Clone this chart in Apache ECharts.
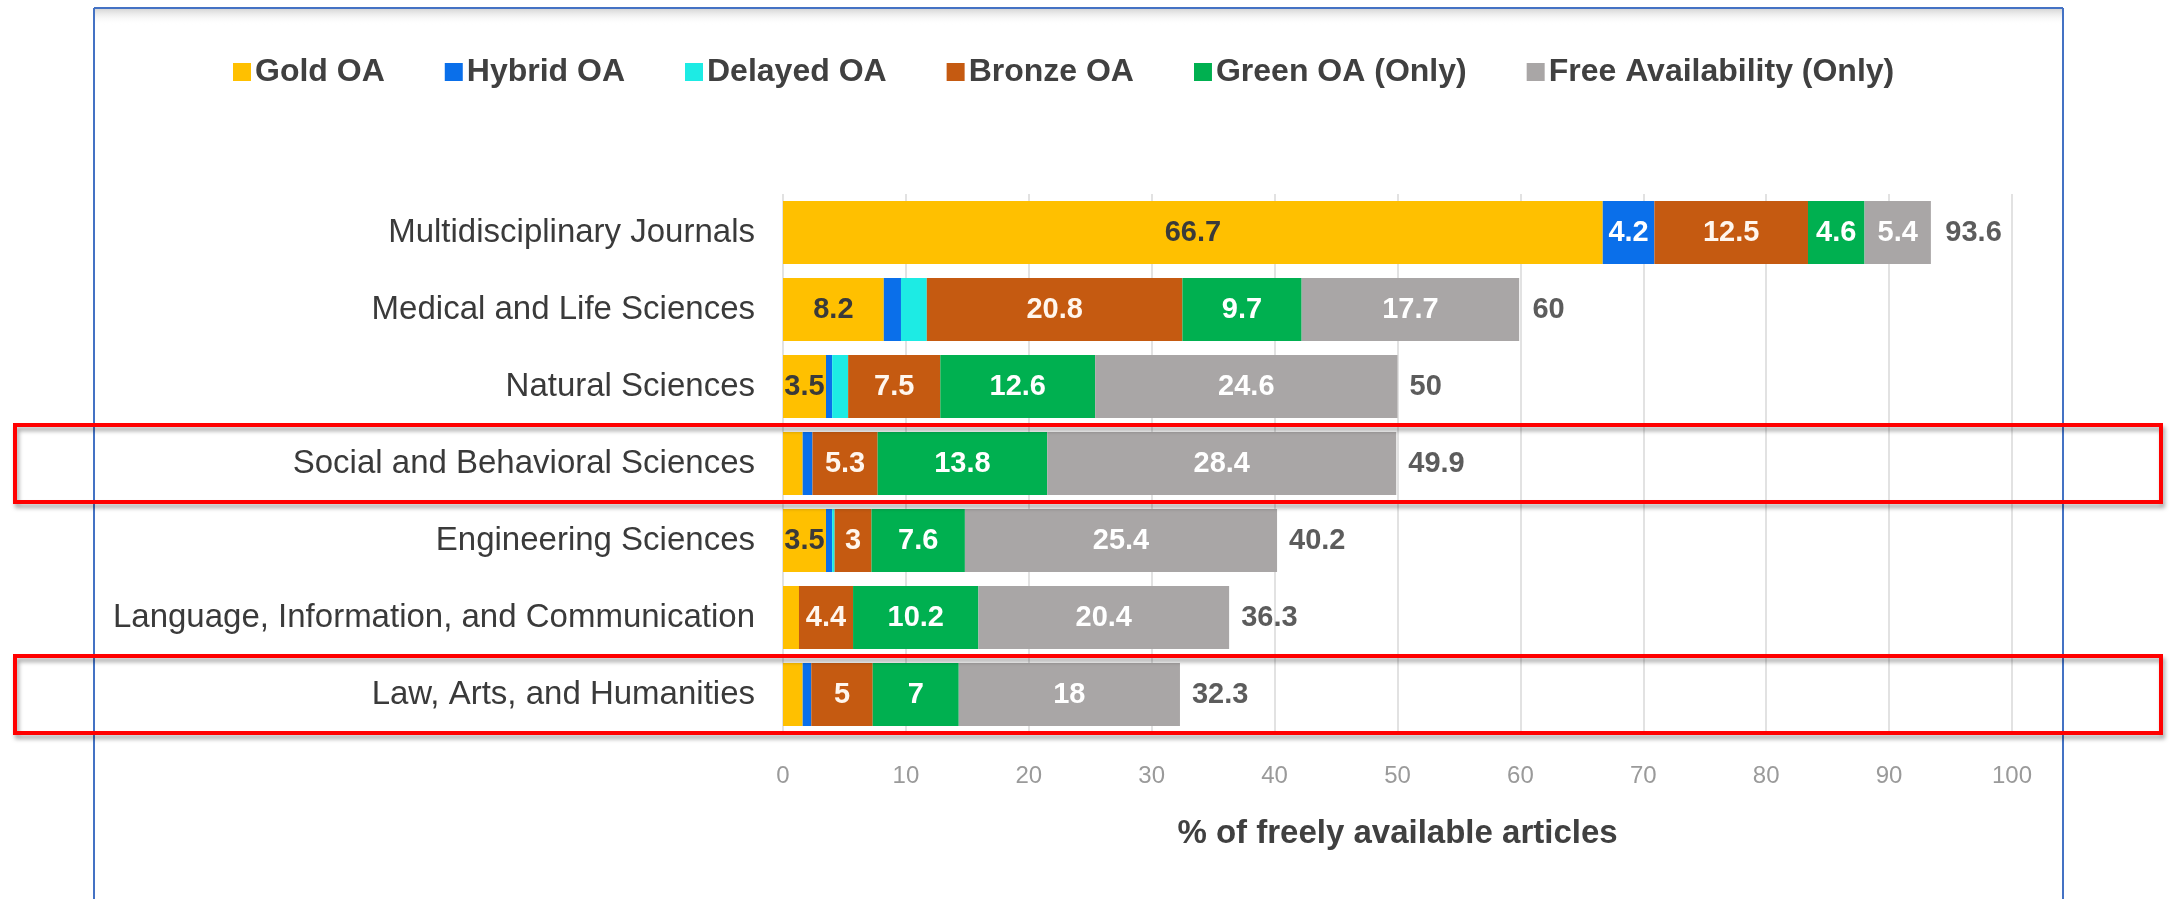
<!DOCTYPE html>
<html>
<head>
<meta charset="utf-8">
<script src="https://cdn.jsdelivr.net/npm/echarts@6/dist/echarts.min.js"></script>
<style>
html,body{margin:0;padding:0;background:#fff;}
#chart{width:2172px;height:899px;}
</style>
</head>
<body>
<div id="chart"></div>
<script>
// ---- data ----
const categories = [
  'Multidisciplinary Journals',
  'Medical and Life Sciences',
  'Natural Sciences',
  'Social and Behavioral Sciences',
  'Engineering Sciences',
  'Language, Information, and Communication',
  'Law, Arts, and Humanities'
];
const seriesNames = ['Gold OA', 'Hybrid OA', 'Delayed OA', 'Bronze OA', 'Green OA (Only)', 'Free Availability (Only)'];
const goldOA    = [66.7, 8.2, 3.5, 1.6, 3.5, 1.3, 1.6];
const hybridOA  = [4.2, 1.4, 0.5, 0.8, 0.5, 0, 0.7];
const delayedOA = [0, 2.1, 1.3, 0, 0.2, 0, 0];
const bronzeOA  = [12.5, 20.8, 7.5, 5.3, 3, 4.4, 5];
const greenOA   = [4.6, 9.7, 12.6, 13.8, 7.6, 10.2, 7];
const freeAvail = [5.4, 17.7, 24.6, 28.4, 25.4, 20.4, 18];
const totals    = [93.6, 60, 50, 49.9, 40.2, 36.3, 32.3];
const highlighted = ['Social and Behavioral Sciences', 'Law, Arts, and Humanities'];
const xTicks = [0, 10, 20, 30, 40, 50, 60, 70, 80, 90, 100];

// ---- fonts: prefer a narrow face if installed ----
function hasFont(name) {
  const c = document.createElement('canvas').getContext('2d');
  const s = 'abcdefghijklmnopqrstuvwxyz0123456789';
  c.font = '40px monospace';
  const a = c.measureText(s).width;
  c.font = '40px "' + name + '", monospace';
  return Math.abs(c.measureText(s).width - a) > 1;
}
const WIDE = '"Liberation Sans", Arial, sans-serif';
const NARROW_OK = hasFont('Liberation Sans Narrow');
const NARROW = NARROW_OK ? '"Liberation Sans Narrow", "Arial Narrow", sans-serif' : WIDE;
const F = NARROW_OK
  ? {cat: 37, catW: 'bold', lbl: 34, tick: 27, name: 41}
  : {cat: 33, catW: 'normal', lbl: 29, tick: 24, name: 33};

// ---- styles ----
const colors = ['#FFC000', '#0A6FEA', '#1DEBE4', '#C55A11', '#00B050', '#A9A6A6'];
const labelColors = ['#3a3a3a', '#ffffff', '#ffffff', '#fff6ee', '#ffffff', '#ffffff'];
const valueSets = [goldOA, hybridOA, delayedOA, bronzeOA, greenOA, freeAvail];

const GRID = {left: 783, right: 160, top: 194, height: 539};

const barSeries = seriesNames.map((name, i) => ({
  name: name,
  type: 'bar',
  stack: 'total',
  barWidth: 63,
  data: valueSets[i],
  itemStyle: {color: colors[i]},
  label: {
    show: true,
    position: 'inside',
    color: labelColors[i],
    fontFamily: NARROW,
    fontWeight: 'bold',
    fontSize: F.lbl,
    formatter: p => (p.value >= 3 ? String(p.value) : '')
  },
  emphasis: {disabled: true}
}));

const totalSeries = {
  name: 'Total',
  type: 'scatter',
  symbolSize: 0,
  data: totals.map((t, i) => [t, categories[i]]),
  label: {
    show: true,
    position: 'right',
    distance: 12,
    color: '#333',
    fontFamily: NARROW,
    fontWeight: 'bold',
    fontSize: F.lbl,
    formatter: p => String(p.value[0])
  },
  emphasis: {disabled: true},
  z: 5
};

const chart = echarts.init(document.getElementById('chart'), null, {renderer: 'canvas'});

const option = {
  animation: false,
  backgroundColor: '#ffffff',
  textStyle: {fontFamily: WIDE},
  legend: {
    data: seriesNames,
    left: 228,
    top: 51,
    itemWidth: 18,
    itemHeight: 18,
    itemGap: 60,
    icon: 'rect',
    textStyle: {fontFamily: WIDE, fontWeight: 'bold', fontSize: 32, color: '#404040', padding: [0, 0, 0, -1]},
    selectedMode: false
  },
  grid: {left: GRID.left, right: GRID.right, top: GRID.top, height: GRID.height, containLabel: false},
  xAxis: {
    type: 'value',
    min: xTicks[0],
    max: xTicks[xTicks.length - 1],
    interval: 10,
    axisLine: {show: false},
    axisTick: {show: false},
    splitLine: {show: true, lineStyle: {color: '#D9D9D9', width: 1.5}},
    axisLabel: {color: '#9a9a9a', fontFamily: NARROW, fontSize: F.tick, margin: 31},
    name: '% of freely available articles',
    nameLocation: 'middle',
    nameGap: 84,
    nameTextStyle: {fontFamily: NARROW, fontWeight: 'bold', fontSize: F.name, color: '#404040'}
  },
  yAxis: {
    type: 'category',
    data: categories,
    inverse: true,
    axisLine: {show: false},
    axisTick: {show: false},
    splitLine: {show: false},
    axisLabel: {color: '#3a3a3a', fontFamily: NARROW, fontWeight: F.catW, fontSize: F.cat, margin: 28}
  },
  series: barSeries.concat([totalSeries])
};

chart.setOption(option);

// ---- frame and highlight boxes ----
const band = GRID.height / categories.length;
const graphics = [
  {type: 'rect', shape: {x: 95, y: 9, width: 1967, height: 16}, silent: true, z: 1,
   style: {fill: new echarts.graphic.LinearGradient(0, 0, 0, 1, [{offset: 0, color: '#d6d6d6'}, {offset: 1, color: 'rgba(255,255,255,0)'}])}},
  {type: 'line', shape: {x1: 94, y1: 8, x2: 2063, y2: 8}, style: {stroke: '#4472C4', lineWidth: 2}, silent: true, z: 2},
  {type: 'line', shape: {x1: 94, y1: 8, x2: 94, y2: 899}, style: {stroke: '#4472C4', lineWidth: 2}, silent: true, z: 2},
  {type: 'line', shape: {x1: 2063, y1: 8, x2: 2063, y2: 899}, style: {stroke: '#4472C4', lineWidth: 2}, silent: true, z: 2}
];
highlighted.forEach(cat => {
  const cy = chart.convertToPixel({yAxisIndex: 0}, cat);
  graphics.push({
    type: 'rect',
    shape: {x: 15, y: cy - band / 2, width: 2146, height: band},
    style: {fill: 'none', stroke: '#FF0000', lineWidth: 4, shadowBlur: 4, shadowOffsetX: 2, shadowOffsetY: 4, shadowColor: 'rgba(0,0,0,0.35)'},
    silent: true,
    z: 100
  });
});
chart.setOption({graphic: graphics});
</script>
</body>
</html>
